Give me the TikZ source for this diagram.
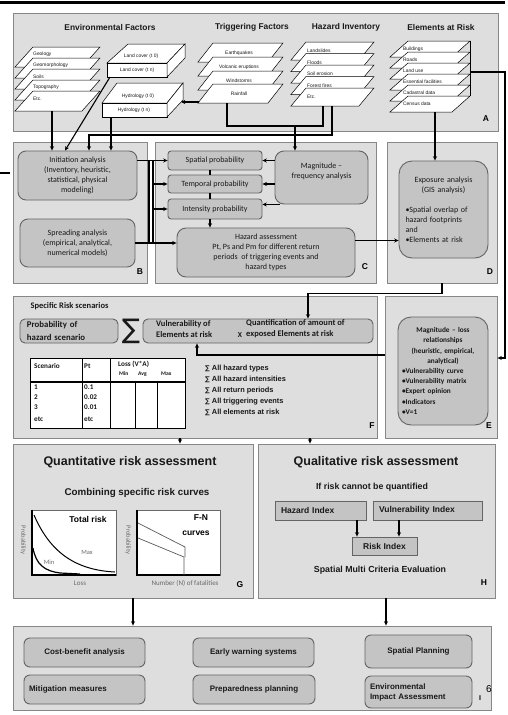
\documentclass[tikz,border=0pt]{standalone}
\usepackage{fontspec}
\setmainfont{Liberation Sans}
\newfontfamily\calfont{Carlito}
\newfontfamily\symfont{DejaVu Sans}
\usetikzlibrary{arrows.meta}

\definecolor{panelfill}{RGB}{222,222,222}
\definecolor{panelline}{RGB}{135,135,135}
\definecolor{boxfill}{RGB}{196,196,196}
\definecolor{boxline}{RGB}{100,100,100}
\definecolor{ink}{RGB}{25,25,25}
\definecolor{axislabel}{RGB}{105,105,105}

\tikzset{
  panel/.style={draw=panelline, fill=panelfill, line width=0.9pt, inner sep=0pt},
  roundbox/.style={draw=boxline, fill=boxfill, line width=0.9pt, rounded corners=7pt, inner sep=2pt, text=ink, align=center},
  softbox/.style={roundbox, rounded corners=3pt},
  flatbox/.style={roundbox, rounded corners=0pt},
  sheet/.style={draw=black, fill=white, line width=0.5pt},
  sheettext/.style={font=\fontsize{4.9}{5}\selectfont, inner sep=0pt, text=ink},
  link/.style={draw=black, line width=1.1pt},
  flow/.style={link, -{Stealth[length=4.3pt,width=4pt]}},
  heading/.style={font=\bfseries\fontsize{8.4}{10}\selectfont, text=ink},
  panelmark/.style={font=\bfseries\fontsize{8.5}{10}\selectfont, text=black},
  calbody/.style={font=\calfont\fontsize{8}{10}\selectfont},
  calbold/.style={font=\calfont\bfseries\fontsize{8.5}{11}\selectfont, text=ink},
  axislab/.style={font=\calfont\fontsize{6.5}{7}\selectfont, text=axislabel, inner sep=0pt},
  actionbox/.style={roundbox, rounded corners=6pt, font=\bfseries\fontsize{8}{10}\selectfont},
}

\begin{document}
\begin{tikzpicture}[x=1pt,y=-1pt]
\useasboundingbox (0,0) rectangle (507,715);
\fill[white] (0,0) rectangle (507,715);

% rules at the page edge
\draw[line width=2.6pt] (0,2.5) -- (505,2.5);
\draw[line width=1.2pt] (0,173) -- (10,173);

% ---------- panels ----------
\node[panel, minimum width=485pt, minimum height=118pt] (A) at (255.5,72) {};
\node[panel, minimum width=134pt, minimum height=141pt] (B) at (80,212.5) {};
\node[panel, minimum width=221pt, minimum height=141pt] (C) at (265.5,212.5) {};
\node[panel, minimum width=110pt, minimum height=141pt] (D) at (442,212.5) {};
\node[panel, minimum width=364pt, minimum height=142pt] (F) at (195,367) {};
\node[panel, minimum width=112pt, minimum height=142pt] (E) at (441,367) {};
\node[panel, minimum width=240pt, minimum height=154pt] (G) at (133,521) {};
\node[panel, minimum width=237pt, minimum height=154pt] (H) at (376.5,521) {};
\node[panel, minimum width=478pt, minimum height=84pt] (I) at (252,668) {};

\node[panelmark] (markA) at (486,119) {A};
\node[panelmark] (markB) at (140,272) {B};
\node[panelmark] (markC) at (365,267) {C};
\node[panelmark] (markD) at (490,272) {D};
\node[panelmark] (markF) at (372,426) {F};
\node[panelmark] (markE) at (489,426) {E};
\node[panelmark] (markG) at (240,585) {G};
\node[panelmark] (markH) at (484,583) {H};
\node[panelmark, font=\bfseries\fontsize{7}{8}\selectfont] (markI) at (480,698) {I};
\node[font=\fontsize{10}{12}\selectfont] (pagenum) at (489,689) {6};

% ---------- panel A: data layers ----------
\node[heading] (hEnv) at (110,27) {Environmental Factors};
\node[heading] (hTrig) at (252,27) {Triggering Factors};
\node[heading] (hHaz) at (346,27) {Hazard Inventory};
\node[heading] (hElem) at (441,27) {Elements at Risk};

\foreach \t/\lab in {47/Geology,58/Geomorphology,69/Soils,80/Topography,91/Etc.}{
  \draw[sheet] (33,\t) -- (100,\t) -- (82,{\t+20}) -- (15,{\t+20}) -- cycle;
  \node[sheettext, anchor=west] at (33,{\t+7.5}) {\lab};
}
\foreach \t/\lab in {43/Earthquakes,57/Volcanic eruptions,71/Windstorms,84/Rainfall}{
  \draw[sheet] (213,\t) -- (283,\t) -- (268,{\t+19}) -- (198,{\t+19}) -- cycle;
  \node[sheettext] at (239,{\t+10}) {\lab};
}
\foreach \t/\lab in {42/Landslides,53.5/Floods,65/Soil erosion,76.5/Forest fires,88/Etc.}{
  \draw[sheet] (306,\t) -- (374,\t) -- (359,{\t+18}) -- (291,{\t+18}) -- cycle;
  \node[sheettext, anchor=west] at (307,{\t+9}) {\lab};
}
\foreach \t/\lab in {41/Buildings,52/Roads,63/Land use,74/Essential facilities,85/Cadastral data,96/Census data}{
  \draw[sheet] (408,\t) -- (470,\t) -- (452,{\t+16}) -- (390,{\t+16}) -- cycle;
  \node[sheettext, anchor=west] at (403,{\t+8}) {\lab};
}
\draw[line width=0.6pt] (470,41) -- (470,96);

% land cover block
\draw[sheet] (107,63) -- (128,44) -- (185,44) -- (167,63) -- cycle;
\draw[sheet] (107,63) rectangle (167,77);
\draw[sheet] (167,63) -- (185,44) -- (185,58) -- (167,77) -- cycle;
\node[sheettext] (lc0) at (141,56) {Land cover (t 0)};
\node[sheettext] (lcn) at (137,70) {Land cover (t n)};
% hydrology block
\draw[sheet] (102,103) -- (117,83) -- (183,83) -- (167,103) -- cycle;
\draw[sheet] (102,103) rectangle (167,117);
\draw[sheet] (167,103) -- (183,83) -- (183,100) -- (167,117) -- cycle;
\node[sheettext] (hy0) at (138,96) {Hydrology (t 0)};
\node[sheettext] (hyn) at (134,110) {Hydrology (t n)};

% ---------- panel B ----------
\node[roundbox, calbody, minimum width=119pt, minimum height=49pt, rounded corners=8pt] (init) at (77.5,175.5)
  {Initiation analysis\\(Inventory, heuristic,\\statistical, physical\\modeling)};
\node[roundbox, calbody, minimum width=115pt, minimum height=48pt, rounded corners=8pt] (spread) at (77.5,243)
  {Spreading analysis\\(empirical, analytical,\\numerical models)};

% ---------- panel C ----------
\node[softbox, calbody, minimum width=94pt, minimum height=19pt] (spatial) at (215,160.5) {Spatial probability};
\node[softbox, calbody, minimum width=94pt, minimum height=18pt] (temporal) at (215,184) {Temporal probability};
\node[softbox, calbody, minimum width=94pt, minimum height=20pt] (intensity) at (215,209) {Intensity probability};
\node[roundbox, calbody, minimum width=178pt, minimum height=49pt, rounded corners=9pt] (hazass) at (266,252.5)
  {Hazard assessment\\Pt, Ps and Pm for different return\\periods~ of triggering events and\\hazard types};
\node[roundbox, calbody, minimum width=93pt, minimum height=53pt, rounded corners=9pt] (magfreq) at (321.5,177.5)
  {Magnitude –\\frequency analysis\\[3pt]};

% ---------- panel D ----------
\node[roundbox, calbody, minimum width=89pt, minimum height=97pt, rounded corners=13pt, text width=76pt, inner xsep=6.5pt, align=left] (expo) at (443.5,209.5)
  {\makebox[76pt]{Exposure analysis}\\\makebox[76pt]{(GIS analysis)}\\[10pt]•Spatial overlap of\\hazard footprints\\and\\•Elements at risk};

% ---------- panel F ----------
\node[calbold, anchor=west] (ftitle) at (27,306) {Specific Risk scenarios};
\node[softbox, rounded corners=5pt, minimum width=98pt, minimum height=24pt, text width=84pt, inner xsep=7pt, align=left,
      font=\calfont\bfseries\fontsize{8.8}{12.5}\selectfont] (prob) at (69,331) {Probability of\\hazard scenario};
\node[font=\symfont\fontsize{27}{27}\selectfont, inner sep=0pt, text=ink] (bigsum) at (131,331) {∑};
\node[softbox, rounded corners=5pt, minimum width=230pt, minimum height=24pt] (vuln) at (258,331) {};
\node[calbold, anchor=west, align=left, inner sep=0pt] (vulnL) at (156,329) {Vulnerability of\\Elements at risk};
\node[calbold, font=\calfont\bfseries\fontsize{7.5}{8}\selectfont, inner sep=0pt] (times) at (240,335) {X};
\node[calbold, anchor=west, align=left, inner sep=0pt] (vulnR) at (246,329) {Quantification of amount of\\exposed Elements at risk};

% scenario table
\node[draw=black, fill=white, line width=0.8pt, minimum width=155pt, minimum height=70pt, inner sep=0pt] (tbl) at (107.5,393) {};
\draw[line width=1.3pt] (30,382) -- (185,382);
\draw[line width=0.8pt] (82,358) -- (82,428);
\draw[line width=0.8pt] (110,358) -- (110,428);
\draw[line width=0.8pt] (135,382) -- (135,428);
\draw[line width=0.8pt] (157,382) -- (157,428);
\begin{scope}[every node/.style={anchor=west, inner sep=0pt, text=ink, font=\calfont\bfseries\fontsize{7.2}{8}\selectfont}]
  \node at (34,366) {Scenario};
  \node at (84,366) {Pt};
  \node at (118,364) {Loss (V*A)};
  \node[font=\calfont\bfseries\fontsize{5.6}{6}\selectfont] at (119,374) {Min};
  \node[font=\calfont\bfseries\fontsize{5.6}{6}\selectfont] at (138,374) {Avg};
  \node[font=\calfont\bfseries\fontsize{5.6}{6}\selectfont] at (161,374) {Max};
  \node at (34,387) {1};   \node at (84,387) {0.1};
  \node at (34,397) {2};   \node at (84,397) {0.02};
  \node at (34,407) {3};   \node at (84,407) {0.01};
  \node at (34,419) {etc}; \node at (84,419) {etc};
\end{scope}

\node[anchor=west, align=left, inner sep=0pt, text=ink, font=\bfseries\fontsize{7.4}{11}\selectfont] (sums) at (205,390)
  {{\symfont\fontsize{6.5}{7}\selectfont ∑} All hazard types\\
   {\symfont\fontsize{6.5}{7}\selectfont ∑} All hazard intensities\\
   {\symfont\fontsize{6.5}{7}\selectfont ∑} All return periods\\
   {\symfont\fontsize{6.5}{7}\selectfont ∑} All triggering events\\
   {\symfont\fontsize{6.5}{7}\selectfont ∑} All elements at risk};

% ---------- panel E ----------
\node[roundbox, rounded corners=13pt, minimum width=90pt, minimum height=108pt, text width=82pt, inner xsep=4pt, align=left,
      font=\calfont\bfseries\fontsize{7.3}{10.2}\selectfont] (magloss) at (443,371)
  {\makebox[82pt]{Magnitude – loss}\\\makebox[82pt]{relationships}\\\makebox[82pt]{(heuristic, empirical,}\\\makebox[82pt]{analytical)}\\
   •Vulnerability curve\\•Vulnerability matrix\\•Expert opinion\\•Indicators\\•V=1};

% ---------- panel G ----------
\node[font=\bfseries\fontsize{12.5}{14}\selectfont, text=ink] (gtitle) at (130,462) {Quantitative risk assessment};
\node[font=\bfseries\fontsize{9.8}{11}\selectfont, text=ink] (gsub) at (137,493) {Combining specific risk curves};

\node[draw=axislabel, fill=white, line width=0.6pt, minimum width=84pt, minimum height=65pt, inner sep=0pt] (lossplot) at (74,542.5) {};
\draw[line width=1.7pt] (lossplot.north west) -- (lossplot.south west) -- (lossplot.south east);
\draw[line width=1pt] (34,515) .. controls (50,552) and (75,570) .. (115,572);
\draw[line width=1.2pt] (33,548) .. controls (36,565) and (45,571) .. (60,573) -- (80,574);
\node[font=\bfseries\fontsize{8.5}{10}\selectfont] (totrisk) at (88,519) {Total risk};
\node[axislab] (maxlab) at (87,552) {Max};
\node[axislab] (minlab) at (49,562) {Min};
\node[axislab, font=\calfont\fontsize{7}{8}\selectfont] (losslab) at (80,583) {Loss};
\node[axislab, rotate=-90] (prob1) at (23,540) {Probability};

\node[draw=axislabel, fill=white, line width=0.6pt, minimum width=83pt, minimum height=65pt, inner sep=0pt] (fnplot) at (178.5,542.5) {};
\draw[line width=1.7pt] (fnplot.north west) -- (fnplot.south west) -- (fnplot.south east);
\draw[line width=0.7pt, draw=black!65] (138,523) -- (185,547) -- (185,557);
\draw[line width=0.7pt, draw=black!65] (138,538) -- (184,557) -- (184,575);
\node[font=\bfseries\fontsize{8.5}{10}\selectfont] (fnlab) at (201,518) {F-N};
\node[font=\bfseries\fontsize{8.5}{10}\selectfont] (curveslab) at (196,533) {curves};
\node[axislab, rotate=-90] (prob2) at (128,540) {Probability};
\node[axislab, font=\calfont\fontsize{7}{8}\selectfont] (fatal) at (185,583) {Number (N) of fatalities};

% ---------- panel H ----------
\node[font=\bfseries\fontsize{12.5}{14}\selectfont, text=ink] (htitle) at (376,462) {Qualitative risk assessment};
\node[font=\bfseries\fontsize{8.8}{10}\selectfont, text=ink] (hsub) at (372,487) {If risk cannot be quantified};
\node[flatbox, minimum width=91pt, minimum height=19pt, text width=79pt, inner xsep=6pt, align=left,
      font=\bfseries\fontsize{8.5}{10}\selectfont] (hazidx) at (320.5,510.5) {Hazard Index};
\node[flatbox, minimum width=109pt, minimum height=19pt, text width=97pt, inner xsep=6pt, align=left,
      font=\bfseries\fontsize{8.5}{10}\selectfont] (vulidx) at (427.5,510.5) {Vulnerability Index};
\node[flatbox, minimum width=65pt, minimum height=18pt, font=\bfseries\fontsize{8.5}{10}\selectfont] (riskidx) at (384.5,546) {Risk Index};
\node[font=\bfseries\fontsize{8.8}{10}\selectfont, text=ink] (smce) at (380,570) {Spatial Multi Criteria Evaluation};

% ---------- panel I ----------
\node[actionbox, minimum width=121pt, minimum height=29pt] (cba) at (84.5,652.5) {Cost-benefit analysis};
\node[actionbox, minimum width=121pt, minimum height=29pt, text width=111pt, inner xsep=5pt, align=left] (mit) at (84.5,689.5) {Mitigation measures};
\node[actionbox, minimum width=121pt, minimum height=29pt] (ews) at (253.5,652.5) {Early warning systems};
\node[actionbox, minimum width=122pt, minimum height=29pt] (prep) at (254,689.5) {Preparedness planning};
\node[actionbox, minimum width=107pt, minimum height=33pt] (spat) at (418.5,651.5) {Spatial Planning};
\node[actionbox, minimum width=107pt, minimum height=32pt, text width=97pt, inner xsep=5pt, align=left] (eia) at (418.5,692) {Environmental\\Impact Assessment};

% ---------- connectors ----------
\coordinate (envB) at (52,111);
\coordinate (lcB) at (110,77);
\coordinate (hyB) at (111,117);
\coordinate (trigB) at (227,103);
\coordinate (hazB1) at (323,106);
\coordinate (hazB2) at (332,106);
\coordinate (elemB) at (435,112);
\coordinate (elemS) at (470,72);
\coordinate (rainL) at (199,102);
\coordinate (hyR) at (181,102);
\coordinate (trigJ) at (295,126);
\coordinate (eJ) at (505,358);
\coordinate (busA) at (149,0);
\coordinate (busB) at (153,0);

\draw[flow] (envB) -- ([xshift=-25.5pt]init.north);
\draw[flow] (lcB) -- ([xshift=-12.5pt]init.north);
\draw[flow] (hyB) -- ([xshift=33.5pt]init.north);
\draw[flow] (hazB2) -- (332,135) -- (89,135) -- ([xshift=11.5pt]init.north);
\draw[link] (trigB) -- (227,126) -- (323,126) -- (hazB1);
\draw[flow] (trigJ) -- (trigJ |- magfreq.north);
\draw[flow] (elemB) -- (elemB |- expo.north);
\draw[flow] (rainL) -- (hyR);
\draw[flow] (elemS) -| (eJ) -- (eJ -| E.east);

% B to C
\draw[flow] (init.east |- spatial.west) -- (spatial.west);
\draw[link] (busA |- spatial.west) -- (busA |- spread.east);
\draw[link] (busB |- spatial.west) -- (busB |- spread.east);
\draw[flow] (busB |- temporal.west) -- (temporal.west);
\draw[flow] (busB |- intensity.west) -- (intensity.west);
\draw[flow] (spread.east) -- (spread.east -| hazass.west);

% inside C
\draw[link] ([xshift=-5pt]spatial.south) -- ([xshift=-5pt]temporal.north);
\draw[link] ([xshift=-5pt]temporal.south) -- ([xshift=-5pt]intensity.north);
\draw[flow] ([xshift=-5pt]intensity.south) -- ([xshift=-5pt]intensity.south |- hazass.north);
\draw[flow] (magfreq.west |- spatial.east) -- (spatial.east);
\draw[flow] (magfreq.west |- temporal.east) -- (temporal.east);
\coordinate (mfLow) at ([xshift=5pt]magfreq.south west);
\draw[flow] (mfLow) -- (mfLow -| intensity.east);

% C to D
\coordinate (haOut) at ([yshift=12pt]hazass.east);
\draw[flow] (haOut) -- (haOut -| expo.west);

% D and E to F
\draw[flow] (D.south) -- ++(0,10) -| ([xshift=50pt]vuln.north);
\coordinate (eOut) at ([yshift=12pt]E.west);
\draw[flow] (eOut) -| ([xshift=-61pt]vuln.south);

% F to G and H
\coordinate (fgOut) at ([xshift=-15pt]F.south);
\draw[flow] (fgOut) -- (fgOut |- G.north);
\coordinate (fhOut) at ([xshift=115pt]F.south);
\draw[flow] (fhOut) -- (fhOut |- H.north);

% inside H
\coordinate (hzDown) at ([xshift=36.5pt]hazidx.south);
\draw[flow] (hzDown) -- (hzDown |- riskidx.north);
\coordinate (vuDown) at ([xshift=-28.5pt]vulidx.south);
\draw[flow] (vuDown) -- (vuDown |- riskidx.north);

% G and H to I
\draw[flow] (G.south) -- (G.south |- I.north);
\coordinate (hiOut) at ([xshift=9.5pt]H.south);
\draw[flow] (hiOut) -- (hiOut |- I.north);
\end{tikzpicture}
\end{document}
